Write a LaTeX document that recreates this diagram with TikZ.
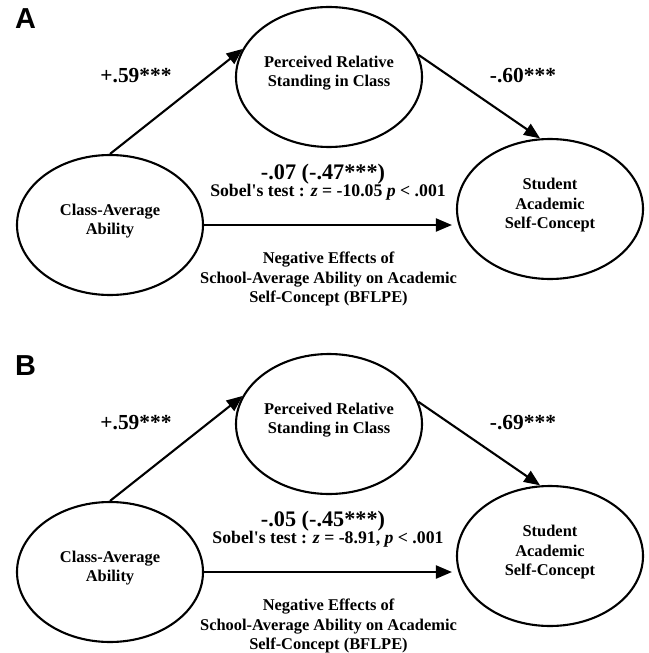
\documentclass[tikz,border=0pt]{standalone}
\usepackage{fontspec}
\setmainfont{Liberation Serif}
\newfontfamily\panelfont{Liberation Sans}
\usetikzlibrary{shapes.geometric, arrows.meta, positioning, calc}

\begin{document}
\begin{tikzpicture}[x=1bp, y=-1bp,
    latent/.style={draw, ellipse, line width=2.1bp, minimum width=186bp, minimum height=140bp,
      inner sep=0pt, align=center, text depth=11bp, font=\bfseries\fontsize{16.5}{19.5}\selectfont},
    link/.style={-{Triangle[length=16bp, width=13bp]}, line width=2.1bp},
    coef/.style={font=\bfseries\fontsize{21.5}{24}\selectfont},
    note/.style={align=center, font=\bfseries\fontsize{17.8}{20}\selectfont}]

    \useasboundingbox (0,0) rectangle (649,653);

    \foreach \p/\dy/\ab/\bc/\dc/\tot/\zv in {
      A/0/+.59/-.60/-.07/-.47/-10.05,
      B/347/+.59/-.69/-.05/-.45/{-8.91,}} {
      % Panel letter
      \node[font=\panelfont\bfseries\fontsize{29}{29}\selectfont] (tag\p) at (25.5, 19+\dy) {\p};

      % Latent variables
      \node[latent] (prs\p) at (329, 77+\dy) {Perceived Relative\\Standing in Class};
      \node[latent] (cav\p) at (110, 225+\dy) {Class-Average\\Ability};
      \node[latent] (sac\p) at (550, 209+\dy) {Student\\Academic\\Self-Concept};

      % Paths
      \draw[link] (cav\p.north) -- (prs\p.162);
      \draw[link] (prs\p.14) -- (sac\p.98);
      \draw[link, shorten >=4bp] (cav\p.east) -- (cav\p.east -| sac\p.west);

      % Coefficients
      \node[coef] (ab\p) at (136, 76+\dy) {\ab***};
      \node[coef] (bc\p) at (523, 76+\dy) {\bc***};
      \node[coef, font=\bfseries\fontsize{22.3}{24}\selectfont] (dc\p) at (323, 174+\dy) {\dc\ (\tot***)};
      \node[note] (sobel\p) at (328, 192+\dy)
        {Sobel\textquotesingle s test : {\itshape z} = \zv\ {\itshape p} < .001};
      \node[note, font=\bfseries\fontsize{16.5}{20}\selectfont] (bflpe\p) at (328.5, 279+\dy)
        {Negative Effects of\\School-Average Ability on Academic\\Self-Concept (BFLPE)};
    }
  \end{tikzpicture}
\end{document}
